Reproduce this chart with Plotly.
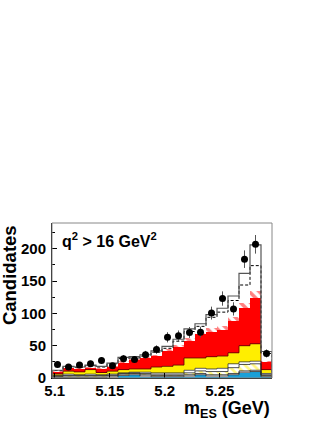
import numpy as np
import plotly.graph_objects as go

# bins: 20 bins of 0.01 in m_ES
bin_lo = 5.0975
bin_w = 0.01
n_bins = 20

# stacked components (bottom -> top), candidates per bin
cyan      = [1, 1, 1, 1, 1, 1.5, 4, 5, 3, 2, 2, 2, 3, 5, 3, 3, 5, 9, 10, 2]
white_lo  = [1.5, 2, 2, 2, 2, 2, 2, 2, 2, 2, 2, 2, 2, 2, 2, 2, 2, 2, 2, 2]
yel_hatch = [1, 1, 1, 1, 1, 1, 1, 1, 2, 2, 2, 2, 3, 4, 5, 5, 9, 10, 10, 1]
white_hi  = [1, 2, 1, 2, 1, 1.5, 1, 1, 2, 2, 2, 2, 4, 4, 4, 5, 6, 4, 4, 2]
yellow    = [2, 4.5, 4.5, 7, 3.5, 4.5, 5, 5, 5, 9, 10, 12, 19, 16, 19, 19, 17, 25, 27, 6]
red       = [3.5, 5.5, 5.5, 4, 6.5, 7.5, 11, 14, 17, 18, 24, 28, 27, 37, 39, 40, 49, 58, 71, 13]
red_hatch = [1, 1, 1, 1, 1, 1.5, 3, 2, 2, 2, 3, 3, 4, 4, 5, 6, 7, 8, 10, 1]
white_sig = [0.5, 0.5, 0.5, 1, 1, 2.5, 3, 1, 1, 3, 1, 6, 10, 8, 17, 22, 25, 28, 40, 11]
white_top = [0.5, 0.5, 0.5, 1, 1, 1, 2, 2, 2, 2, 3, 3, 4, 4, 4, 6, 7, 18, 32, 3]

# data
data_y   = [21, 17, 20, 22, 27, 19, 30, 28.5, 36, 44, 63, 65.5, 70.5, 71, 100.5, 123, 107, 184, 207, 38]
data_err = [4.6, 4.1, 4.5, 4.7, 5.2, 4.4, 5.5, 5.3, 6.0, 6.6, 7.9, 8.1, 8.4, 8.4, 10.0, 11.1, 10.3, 13.6, 14.4, 6.2]

tick_vals = [5.1, 5.15, 5.2, 5.25]
tick_text = ["5.1", "5.15", "5.2", "5.25"]

edges = bin_lo + bin_w * np.arange(n_bins + 1)
centers = edges[:-1] + bin_w / 2

FONT = "Liberation Sans, Arial, sans-serif"

layers = [
    (cyan,      dict(color="#1aa0d8")),
    (white_lo,  dict(color="white")),
    (yel_hatch, dict(color="white", pattern=dict(shape="\\", fgcolor="#ffee00", bgcolor="white", size=6, solidity=0.45))),
    (white_hi,  dict(color="white")),
    (yellow,    dict(color="#ffee00")),
    (red,       dict(color="#ff0000")),
    (red_hatch, dict(color="white", pattern=dict(shape="\\", fgcolor="#ff0000", bgcolor="white", size=7, solidity=0.5))),
    (white_sig, dict(color="white")),
    (white_top, dict(color="white")),
]

fig = go.Figure()
for vals, mk in layers:
    mk = dict(mk, line=dict(width=0))
    fig.add_trace(go.Bar(x=centers, y=vals, width=bin_w, marker=mk, hoverinfo="skip"))


def step(vals):
    xs = [edges[0]] + list(edges[:-1]) + [edges[-1], edges[-1]]
    ys = [0] + list(vals) + [vals[-1], 0]
    return xs, ys


cum = np.cumsum([l[0] for l in layers], axis=0)
# outlines of the cumulative stack
outline = [
    (0, "#222", 0.8, "solid"),
    (1, "#222", 0.8, "solid"),
    (2, "#222", 0.8, "solid"),
    (3, "#333", 0.8, "solid"),
    (4, "#550000", 0.8, "solid"),
    (7, "black", 1, "3px,2px"),
    (8, "#555", 1.2, "solid"),
]
for idx, col, w, dash in outline:
    xs, ys = step(cum[idx])
    fig.add_trace(go.Scatter(x=xs, y=ys, mode="lines", line_shape="hv",
                             line=dict(color=col, width=w, dash=dash), hoverinfo="skip"))

fig.add_trace(go.Scatter(x=centers, y=data_y, mode="markers",
                         marker=dict(color="black", size=7),
                         error_y=dict(type="data", array=data_err, color="#555", thickness=1, width=0)))

fig.update_layout(
    width=327, height=423,
    margin=dict(l=52, r=55, t=223, b=44.5),
    barmode="stack", bargap=0,
    showlegend=False,
    plot_bgcolor="white", paper_bgcolor="white",
    font=dict(family=FONT, color="black"),
)
fig.update_xaxes(
    range=[edges[0], edges[-1]],
    tickvals=tick_vals, ticktext=tick_text,
    tickfont=dict(size=15, weight="bold"),
    ticks="inside", ticklen=5, tickcolor="black",
    ticklabelstandoff=-1,
    showline=True, linecolor="black", linewidth=1,
    showgrid=False, zeroline=False,
)
fig.update_yaxes(
    range=[0, 240], dtick=50,
    tickfont=dict(size=15, weight="bold"),
    ticks="inside", ticklen=5, tickcolor="black",
    ticklabelstandoff=2,
    minor=dict(dtick=25, ticks="inside", ticklen=3, tickcolor="black"),
    showline=True, linecolor="black", linewidth=1,
    showgrid=False, zeroline=False,
)
# frame on top/right
fig.add_shape(type="rect", xref="paper", yref="paper", x0=0, x1=1, y0=0, y1=1,
              line=dict(color="#888", width=1), layer="above")

fig.add_annotation(text="Candidates", xref="paper", yref="paper", x=-0.195, y=1.0,
                   xanchor="center", yanchor="top", textangle=-90, showarrow=False,
                   font=dict(size=18.5, weight="bold"))
fig.add_annotation(text="m<sub>ES</sub> (GeV)", xref="paper", yref="paper", x=1.0, y=-0.115,
                   xanchor="right", yanchor="top", showarrow=False,
                   font=dict(size=18, weight="bold"))
fig.add_annotation(text="q<sup>2</sup> > 16 GeV<sup>2</sup>", xref="paper", yref="paper",
                   x=0.035, y=0.97, xanchor="left", yanchor="top", showarrow=False,
                   font=dict(size=16, weight="bold"))

# page body has a default 8px margin; drop it so the figure sits at the corner
fig.write_html("out.html", config={"displayModeBar": False},
               post_script="document.body.style.margin='0px';")
